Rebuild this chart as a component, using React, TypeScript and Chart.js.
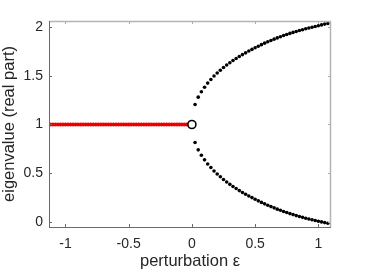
import React, { useEffect, useRef } from "react";
import { Chart, registerables } from "chart.js";

Chart.register(...registerables);

// Tick labels
const xTicks = [-1, -0.5, 0, 0.5, 1];
const yTicks = [0, 0.5, 1, 1.5, 2];

// Negative perturbation: real part stays at 1
const negEps = [
  -1.12, -1.1, -1.08, -1.06, -1.04, -1.02, -1, -0.98, -0.96, -0.94, -0.92, -0.9,
  -0.88, -0.86, -0.84, -0.82, -0.8, -0.78, -0.76, -0.74, -0.72, -0.7, -0.68, -0.66,
  -0.64, -0.62, -0.6, -0.58, -0.56, -0.54, -0.52, -0.5, -0.48, -0.46, -0.44, -0.42,
  -0.4, -0.38, -0.36, -0.34, -0.32, -0.3, -0.28, -0.26, -0.24, -0.22, -0.2, -0.18,
  -0.16, -0.14, -0.12, -0.1, -0.08, -0.06, -0.04, -0.02, 0,
];
const negReal = [
  1, 1, 1, 1, 1, 1, 1, 1, 1, 1, 1, 1, 1, 1, 1, 1, 1, 1, 1, 1, 1, 1, 1, 1, 1, 1, 1, 1,
  1, 1, 1, 1, 1, 1, 1, 1, 1, 1, 1, 1, 1, 1, 1, 1, 1, 1, 1, 1, 1, 1, 1, 1, 1, 1, 1, 1, 1,
];

// Positive perturbation: two real eigenvalues
const posEps = [
  0.025, 0.05, 0.075, 0.1, 0.125, 0.15, 0.175, 0.2, 0.225, 0.25, 0.275, 0.3, 0.325,
  0.35, 0.375, 0.4, 0.425, 0.45, 0.475, 0.5, 0.525, 0.55, 0.575, 0.6, 0.625, 0.65,
  0.675, 0.7, 0.725, 0.75, 0.775, 0.8, 0.825, 0.85, 0.875, 0.9, 0.925, 0.95, 0.975,
  1.0, 1.025, 1.05, 1.075,
];
const upperReal = [
  1.205, 1.28, 1.335, 1.382, 1.424, 1.461, 1.496, 1.527, 1.556, 1.583, 1.609, 1.633,
  1.655, 1.676, 1.697, 1.716, 1.734, 1.752, 1.769, 1.786, 1.802, 1.818, 1.833, 1.847,
  1.861, 1.874, 1.887, 1.899, 1.911, 1.922, 1.933, 1.943, 1.953, 1.962, 1.971, 1.98,
  1.988, 1.996, 2.004, 2.012, 2.02, 2.028, 2.035,
];
const lowerReal = [
  0.815, 0.74, 0.685, 0.638, 0.596, 0.559, 0.524, 0.493, 0.464, 0.437, 0.411, 0.387,
  0.365, 0.344, 0.323, 0.304, 0.286, 0.268, 0.251, 0.234, 0.218, 0.202, 0.187, 0.173,
  0.159, 0.146, 0.133, 0.121, 0.109, 0.098, 0.087, 0.077, 0.067, 0.058, 0.049, 0.04,
  0.032, 0.024, 0.016, 0.009, 0.002, -0.005, -0.011,
];

// Unperturbed eigenvalue
const baseEps = [0];
const baseReal = [1];

const X_MIN = -1.13;
const X_MAX = 1.1;
const Y_MIN = -0.05;
const Y_MAX = 2.06;

const FONT = "'Liberation Sans', Arial, Helvetica, sans-serif";

const boxPlugin = {
  id: "matlabBox",
  afterDraw(chart: any) {
    const { ctx, chartArea, scales } = chart;
    const { left, right, top, bottom } = chartArea;
    const xs = scales.x;
    const ys = scales.y;
    const tl = 3;
    ctx.save();
    ctx.lineWidth = 1;
    // inward ticks
    for (const v of xTicks) {
      const px = Math.round(xs.getPixelForValue(v)) + 0.5;
      ctx.strokeStyle = "#6a6a6a";
      ctx.beginPath();
      ctx.moveTo(px, bottom);
      ctx.lineTo(px, bottom - tl);
      ctx.stroke();
      ctx.strokeStyle = "#a8a8a8";
      ctx.beginPath();
      ctx.moveTo(px, top);
      ctx.lineTo(px, top + tl);
      ctx.stroke();
    }
    for (const v of yTicks) {
      const py = Math.round(ys.getPixelForValue(v)) + 0.5;
      ctx.strokeStyle = "#6a6a6a";
      ctx.beginPath();
      ctx.moveTo(left, py);
      ctx.lineTo(left + tl, py);
      ctx.stroke();
      ctx.strokeStyle = "#a8a8a8";
      ctx.beginPath();
      ctx.moveTo(right, py);
      ctx.lineTo(right - tl, py);
      ctx.stroke();
    }
    // box
    ctx.strokeStyle = "#b4b4b4";
    ctx.lineWidth = 1.5;
    ctx.beginPath();
    ctx.moveTo(left, top + 0.5);
    ctx.lineTo(right, top + 0.5);
    ctx.moveTo(right - 0.5, top);
    ctx.lineTo(right - 0.5, bottom);
    ctx.stroke();
    ctx.strokeStyle = "#6a6a6a";
    ctx.lineWidth = 1;
    ctx.beginPath();
    ctx.moveTo(left + 0.5, top);
    ctx.lineTo(left + 0.5, bottom + 0.5);
    ctx.moveTo(left, bottom + 0.5);
    ctx.lineTo(right, bottom + 0.5);
    ctx.stroke();
    ctx.restore();
  },
};

const toPoints = (xs: number[], ys: number[]) => xs.map((x, i) => ({ x, y: ys[i] }));

export default function App() {
  const ref = useRef<HTMLCanvasElement | null>(null);

  useEffect(() => {
    if (!ref.current) return;
    const chart = new Chart(ref.current, {
      type: "scatter",
      data: {
        datasets: [
          {
            label: "unperturbed",
            data: toPoints(baseEps, baseReal),
            pointRadius: 4,
            pointBorderWidth: 1.6,
            pointBorderColor: "#000000",
            pointBackgroundColor: "#ffffff",
            showLine: false,
            order: 0,
            clip: false as any,
          },
          {
            label: "negative",
            data: toPoints(negEps, negReal),
            showLine: true,
            borderColor: "#ff0000",
            borderWidth: 2.5,
            pointRadius: 2,
            pointBorderWidth: 0,
            pointBackgroundColor: "#ee0000",
            order: 2,
          },
          {
            label: "upper",
            data: toPoints(posEps, upperReal),
            showLine: false,
            pointRadius: 1.8,
            pointBorderWidth: 0,
            pointBackgroundColor: "#000000",
            order: 1,
            clip: false as any,
          },
          {
            label: "lower",
            data: toPoints(posEps, lowerReal),
            showLine: false,
            pointRadius: 1.8,
            pointBorderWidth: 0,
            pointBackgroundColor: "#000000",
            order: 1,
            clip: false as any,
          },
        ],
      },
      options: {
        animation: false,
        responsive: false,
        maintainAspectRatio: false,
        layout: { padding: { left: 0, top: 21, right: 35, bottom: 0 } },
        plugins: { legend: { display: false }, tooltip: { enabled: false } },
        scales: {
          x: {
            type: "linear",
            min: X_MIN,
            max: X_MAX,
            afterBuildTicks: (s: any) => {
              s.ticks = xTicks.map((v) => ({ value: v }));
            },
            afterFit: (s: any) => {
              s.height = 47;
            },
            grid: { display: false, drawTicks: false },
            border: { display: false },
            ticks: {
              padding: 9,
              color: "#262626",
              font: { family: FONT, size: 14 },
              maxRotation: 0,
              callback: (v: any) => String(v),
            },
            title: {
              display: true,
              text: "perturbation ε",
              color: "#262626",
              font: { family: FONT, size: 16.5 },
              padding: { top: 0, bottom: 3 },
            },
          },
          y: {
            type: "linear",
            min: Y_MIN,
            max: Y_MAX,
            afterBuildTicks: (s: any) => {
              s.ticks = yTicks.map((v) => ({ value: v }));
            },
            afterFit: (s: any) => {
              s.width = 49;
            },
            grid: { display: false, drawTicks: false },
            border: { display: false },
            ticks: {
              padding: 6,
              color: "#262626",
              font: { family: FONT, size: 14 },
              callback: (v: any) => String(v),
            },
            title: {
              display: true,
              text: "eigenvalue (real part)",
              color: "#262626",
              font: { family: FONT, size: 16.5 },
              padding: { top: 0, bottom: 0 },
            },
          },
        },
      },
      plugins: [boxPlugin],
    });
    return () => chart.destroy();
  }, []);

  return (
    <div style={{ position: "fixed", left: 0, top: 0, width: 366, height: 274, background: "#ffffff" }}>
      <canvas ref={ref} width={366} height={274} style={{ width: 366, height: 274, display: "block" }} />
    </div>
  );
}
